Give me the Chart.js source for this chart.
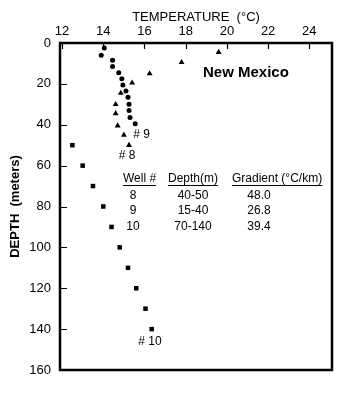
<!DOCTYPE html>
<html>
<head>
<meta charset="utf-8">
<script src="https://cdn.jsdelivr.net/npm/chart.js@4/dist/chart.umd.min.js"></script>
<style>
  html, body { margin: 0; padding: 0; background: #fff; }
  #wrap { width: 353px; height: 413px; }
</style>
</head>
<body>
<div id="wrap"><canvas id="wellChart" width="353" height="413"></canvas></div>
<script>
// Well 9 (circles)
const well9Temp = [14.05, 13.9, 14.45, 14.45, 14.75, 14.9, 14.95, 15.1, 15.2, 15.25, 15.25, 15.3, 15.55];
const well9Depth = [2.5, 6, 8.5, 11.5, 14.5, 17.5, 20.5, 23.5, 26.5, 30, 33, 36.5, 39.5];

// Well 8 (triangles)
const well8Temp = [19.6, 17.8, 16.25, 15.4, 14.85, 14.6, 14.6, 14.7, 15.0, 15.25];
const well8Depth = [4.5, 9.5, 15, 19.5, 24.5, 30, 34.5, 40.5, 45, 50];

// Well 10 (squares)
const well10Temp = [12.5, 13.0, 13.5, 14.0, 14.4, 14.8, 15.2, 15.6, 16.05, 16.35];
const well10Depth = [50, 60, 70, 80, 90, 100, 110, 120, 130, 140];

// tick labels
const tempTicks = [12, 14, 16, 18, 20, 22, 24];
const depthTicks = [0, 20, 40, 60, 80, 100, 120, 140, 160];

// table text
const tableHeaders = ["Well #", "Depth(m)", "Gradient (\u00B0C/km)"];
const tableWells = ["8", "9", "10"];
const tableDepths = ["40-50", "15-40", "70-140"];
const tableGradients = ["48.0", "26.8", "39.4"];

function toPoints(xs, ys) {
    return xs.map((x, i) => ({ x: x, y: ys[i] }));
}

// frame, inner ticks and the text notes
const framePlugin = {
    id: "frame",
    afterDraw(chart) {
        const ctx = chart.ctx;
        const a = chart.chartArea;
        const xs = chart.scales.x;
        const ys = chart.scales.y;
        ctx.save();
        ctx.strokeStyle = "#000";
        ctx.lineWidth = 2.5;
        ctx.strokeRect(a.left, a.top, a.right - a.left, a.bottom - a.top);

        ctx.lineWidth = 1.2;
        ctx.beginPath();
        tempTicks.forEach(v => {
            const px = Math.round(xs.getPixelForValue(v)) + 0.5;
            ctx.moveTo(px, a.top);
            ctx.lineTo(px, a.top + 6);
        });
        depthTicks.forEach(v => {
            const py = Math.round(ys.getPixelForValue(v)) + 0.5;
            ctx.moveTo(a.left, py);
            ctx.lineTo(a.left + 7, py);
        });
        ctx.stroke();

        ctx.fillStyle = "#000";
        ctx.textBaseline = "middle";
        ctx.textAlign = "left";
        ctx.font = "bold 15px 'Liberation Sans', Arial, sans-serif";
        ctx.fillText("New Mexico", 203, 73);

        ctx.font = "12px 'Liberation Sans', Arial, sans-serif";
        ctx.fillText("# 9", xs.getPixelForValue(15.45), ys.getPixelForValue(45));
        ctx.fillText("# 8", xs.getPixelForValue(14.75), ys.getPixelForValue(55));
        ctx.fillText("# 10", xs.getPixelForValue(15.7), ys.getPixelForValue(146));

        // table
        const colLeft = [123, 168, 232];
        const colMid = [133, 193, 259];
        const headY = 179;
        ctx.lineWidth = 1;
        tableHeaders.forEach((h, i) => {
            ctx.textAlign = "left";
            ctx.fillText(h, colLeft[i], headY);
            const w = ctx.measureText(h).width;
            ctx.beginPath();
            ctx.moveTo(colLeft[i], headY + 6.5);
            ctx.lineTo(colLeft[i] + w, headY + 6.5);
            ctx.stroke();
        });
        const rowY = [196, 211, 227];
        ctx.textAlign = "center";
        rowY.forEach((y, r) => {
            ctx.fillText(tableWells[r], colMid[0], y);
            ctx.fillText(tableDepths[r], colMid[1], y);
            ctx.fillText(tableGradients[r], colMid[2], y);
        });
        ctx.restore();
    }
};

new Chart("wellChart", {
    type: "scatter",
    data: {
        datasets: [{
            label: "Well 9",
            data: toPoints(well9Temp, well9Depth),
            pointStyle: "circle",
            pointRadius: 2.5,
            backgroundColor: "#000",
            borderColor: "#000",
            borderWidth: 0
        }, {
            label: "Well 8",
            data: toPoints(well8Temp, well8Depth),
            pointStyle: "triangle",
            pointRadius: 3.4,
            backgroundColor: "#000",
            borderColor: "#000",
            borderWidth: 0
        }, {
            label: "Well 10",
            data: toPoints(well10Temp, well10Depth),
            pointStyle: "rect",
            pointRadius: 3.2,
            backgroundColor: "#000",
            borderColor: "#000",
            borderWidth: 0
        }]
    },
    options: {
        responsive: false,
        animation: false,
        layout: { padding: { left: 0, top: 0, right: 21, bottom: 43 } },
        plugins: {
            legend: { display: false },
            tooltip: { enabled: false }
        },
        scales: {
            x: {
                type: "linear",
                position: "top",
                min: 11.9,
                max: 25.1,
                afterFit: s => { s.height = 43; },
                afterBuildTicks: s => { s.ticks = tempTicks.map(v => ({ value: v })); },
                grid: { display: false, drawTicks: false },
                border: { display: false },
                ticks: {
                    color: "#000",
                    padding: 4,
                    maxRotation: 0,
                    font: { family: "'Liberation Sans', Arial, sans-serif", size: 13 }
                },
                title: {
                    display: true,
                    text: "TEMPERATURE  (\u00B0C)",
                    color: "#000",
                    padding: { top: 10, bottom: 0 },
                    font: { family: "'Liberation Sans', Arial, sans-serif", size: 13 }
                }
            },
            y: {
                type: "linear",
                reverse: true,
                min: 0,
                max: 160,
                afterFit: s => { s.width = 60; },
                afterBuildTicks: s => { s.ticks = depthTicks.map(v => ({ value: v })); },
                grid: { display: false, drawTicks: false },
                border: { display: false },
                ticks: {
                    color: "#000",
                    padding: 9,
                    font: { family: "'Liberation Sans', Arial, sans-serif", size: 13 }
                },
                title: {
                    display: true,
                    text: "DEPTH  (meters)",
                    color: "#000",
                    padding: { top: 8, bottom: 0 },
                    font: { family: "'Liberation Sans', Arial, sans-serif", size: 13, weight: "bold" }
                }
            }
        }
    },
    plugins: [framePlugin]
});
</script>
</body>
</html>
